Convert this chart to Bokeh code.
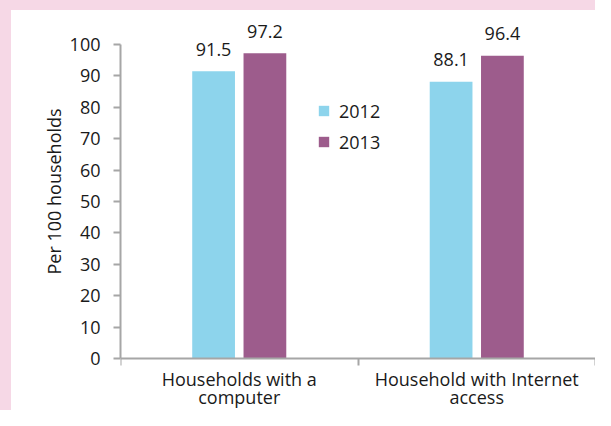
from bokeh.plotting import figure
from bokeh.models import Range1d, FixedTicker, Legend, LegendItem, Title
from bokeh.core.properties import value
from bokeh.embed import file_html
from bokeh.resources import INLINE

# ---- data ----
categories = ["Households with a\ncomputer", "Household with Internet\naccess"]
years = ["2012", "2013"]
values_2012 = [91.5, 88.1]
values_2013 = [97.2, 96.4]
y_ticks = [0, 10, 20, 30, 40, 50, 60, 70, 80, 90, 100]
y_title = "Per 100 households"

# ---- style ----
FONT = "Open Sans"
CYAN = "#8DD4EC"
PURPLE = "#9D5C8C"
PINK = "#F6D8E6"
AXIS = "#A6A6A6"
TEXT = "#1A1A1A"
FS = "18px"

W, H = 595, 410                      # outer size of the chart box
BL, BT = 11, 10                      # pink border (left, top); canvas starts inside it
# frame edges in page px
FL, FR, FT, FB = 120, 595, 14, 410
PX_PER_UNIT = 3.14
ZERO_Y = 358                         # page row of value 0

centers = [i + 0.5 for i in range(len(categories))]
offset = 0.108
bar_w = 0.18
x_2012 = [c - offset for c in centers]
x_2013 = [c + offset for c in centers]

y_lo = -(FB - ZERO_Y) / PX_PER_UNIT
y_hi = (ZERO_Y - FT) / PX_PER_UNIT

p = figure(width=W, height=H,
           x_range=Range1d(0, len(categories)), y_range=Range1d(y_lo, y_hi),
           output_backend="svg", toolbar_location=None,
           min_border_left=FL - BL, min_border_right=W - FR + BL,
           min_border_top=FT - BT, min_border_bottom=H - FB + BT)
p.styles = {"border-left": f"{BL}px solid {PINK}", "border-top": f"{BT}px solid {PINK}",
            "box-sizing": "border-box"}
p.outline_line_color = None
p.xgrid.visible = False
p.ygrid.visible = False
p.background_fill_color = "white"
p.border_fill_color = "white"

r12 = p.vbar(x=x_2012, top=values_2012, width=bar_w, fill_color=CYAN, line_color=None)
r13 = p.vbar(x=x_2013, top=values_2013, width=bar_w, fill_color=PURPLE, line_color=None)

for xs, vals in ((x_2012, values_2012), (x_2013, values_2013)):
    p.text(x=xs, y=vals, text=[f"{v}" for v in vals], text_align="center",
           text_baseline="alphabetic", y_offset=-22,
           text_font=value(FONT), text_font_size=FS, text_color=TEXT)

# y axis
ya = p.yaxis[0]
ya.ticker = FixedTicker(ticks=y_ticks)
ya.bounds = (0, 100)
ya.axis_line_color = AXIS
ya.axis_line_width = 2
ya.major_tick_line_color = AXIS
ya.major_tick_line_width = 2
ya.major_tick_out = 7
ya.major_tick_in = 0
ya.minor_tick_line_color = None
ya.major_label_standoff = 13
ya.major_label_text_font = FONT
ya.major_label_text_font_size = FS
ya.major_label_text_color = TEXT

# y axis title as a side title
p.add_layout(Title(text=y_title, align="left", vertical_align="bottom",
                   offset=FB - 274, standoff=2,
                   text_font=FONT, text_font_size=FS, text_font_style="normal",
                   text_color=TEXT), "left")

# x axis, pinned at value 0
xa = p.xaxis[0]
xa.fixed_location = 0
xa.ticker = FixedTicker(ticks=centers, minor_ticks=[0, 1, 2])
xa.major_label_overrides = {c: lab for c, lab in zip(centers, categories)}
xa.axis_line_color = AXIS
xa.axis_line_width = 2
xa.major_tick_line_color = None
xa.major_tick_out = 0
xa.major_tick_in = 0
xa.minor_tick_line_color = AXIS
xa.minor_tick_line_width = 2
xa.minor_tick_out = 7
xa.minor_tick_in = 0
xa.major_label_standoff = 1
xa.major_label_text_font = FONT
xa.major_label_text_font_size = FS
xa.major_label_text_color = TEXT
xa.major_label_text_line_height = 0.77

legend = Legend(items=[LegendItem(label=years[0], renderers=[r12]),
                       LegendItem(label=years[1], renderers=[r13])],
                location=(197, FB - 154), orientation="vertical",
                glyph_width=13, glyph_height=13, label_standoff=9,
                label_height=25, spacing=6, padding=0, margin=0,
                border_line_color=None, background_fill_alpha=0,
                label_text_font=FONT, label_text_font_size=FS, label_text_color=TEXT)
p.add_layout(legend, "center")

open("out.html", "w").write(file_html(p, INLINE))
